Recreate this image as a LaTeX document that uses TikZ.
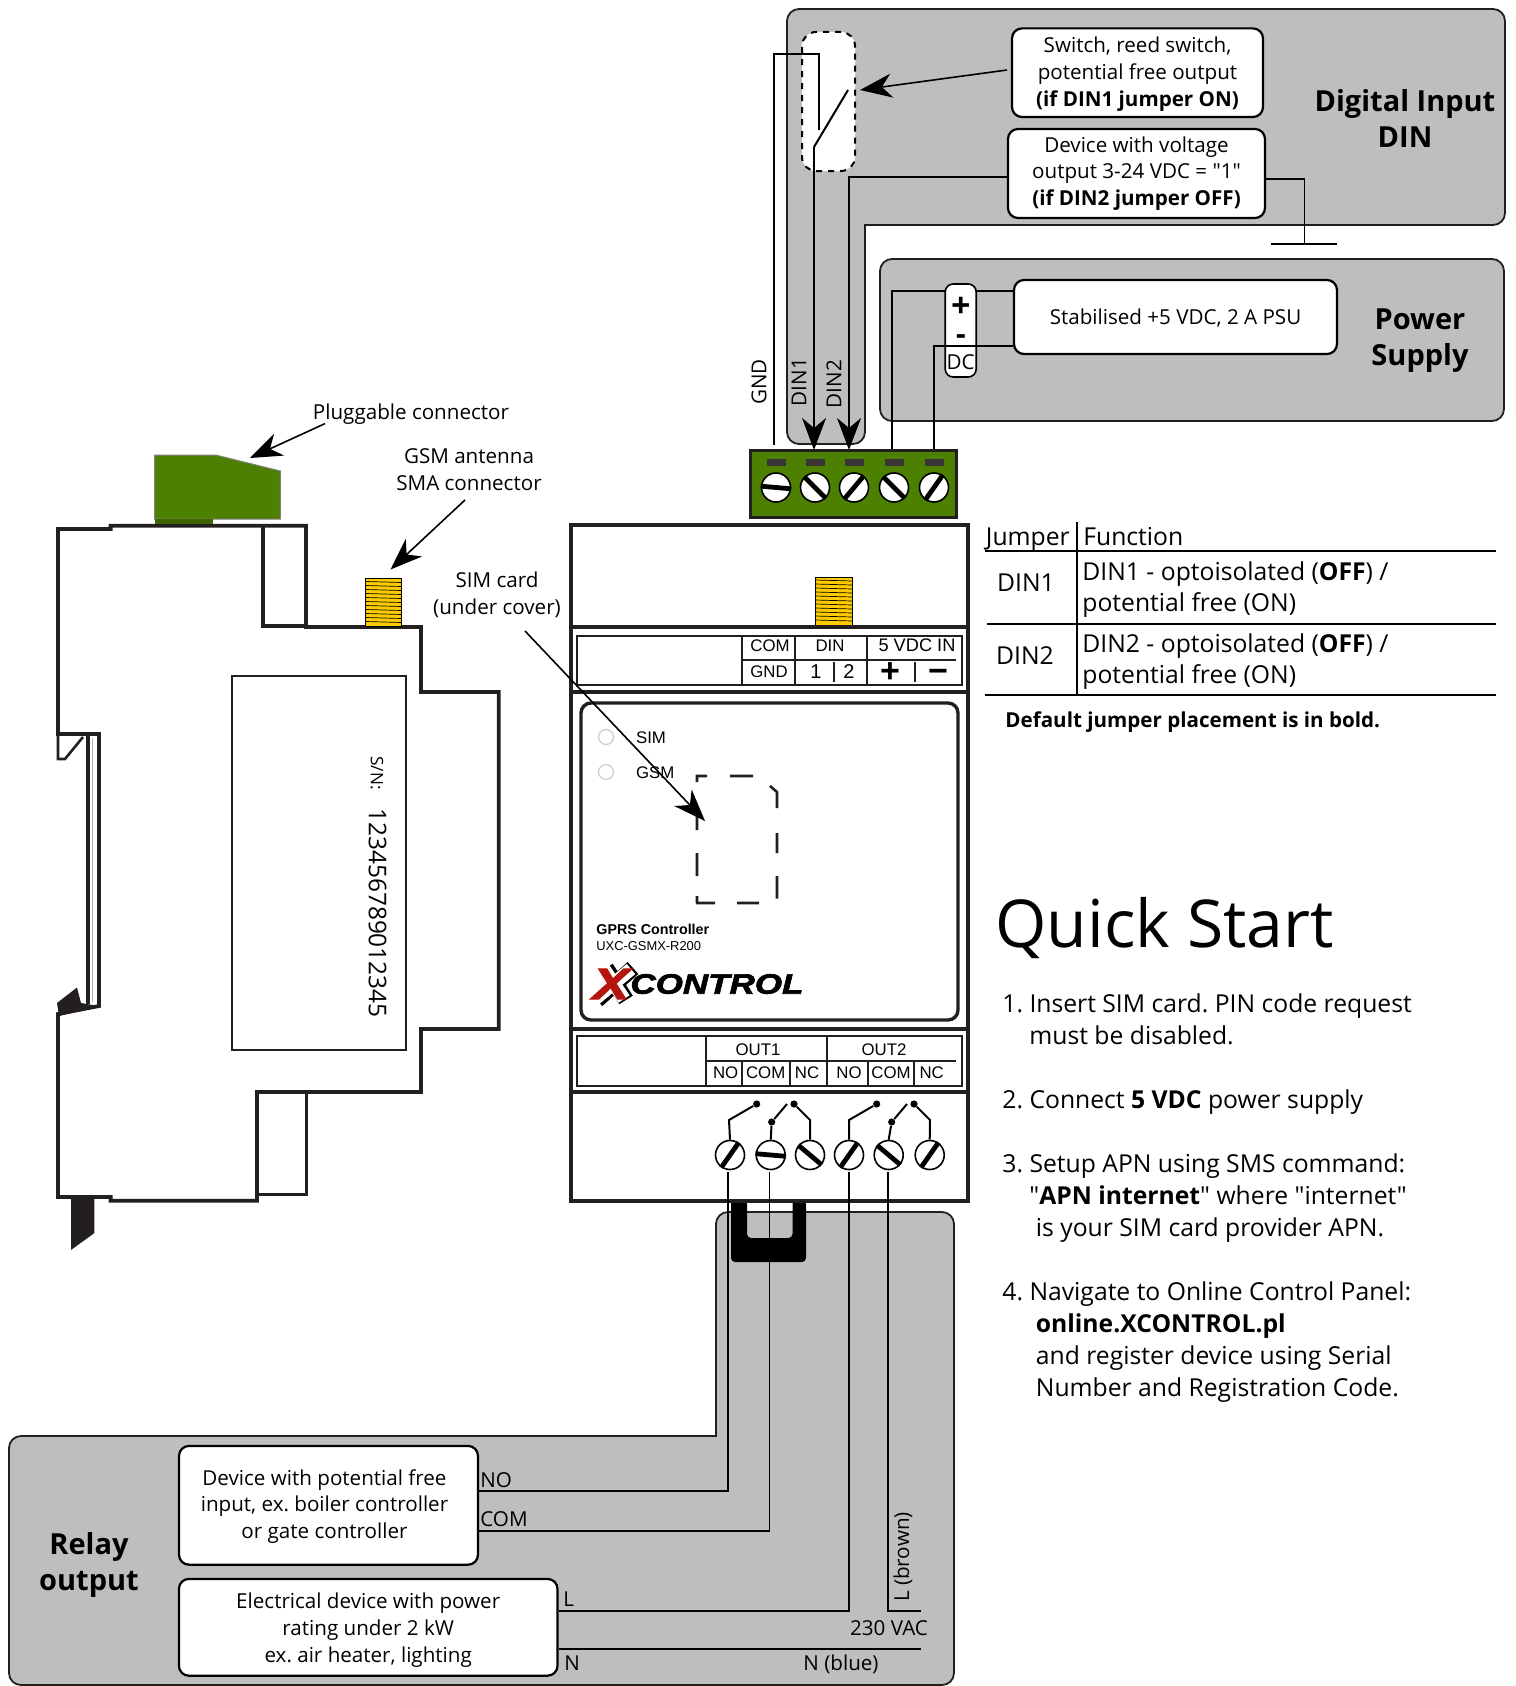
\documentclass[tikz,border=0pt]{standalone}
\usepackage{fontspec}
\setmainfont[Ligatures=TeXOff]{Open Sans}
\newfontfamily\arialfont{Liberation Sans}
\newfontfamily\logofont[BoldItalicFeatures={FakeStretch=1.25,FakeBold=2.5}]{Liberation Sans}
\usetikzlibrary{positioning,arrows.meta,calc}
\definecolor{panelgray}{HTML}{BEBEBE}
\definecolor{plugreen}{HTML}{4D7F00}
\definecolor{ink}{HTML}{231F20}
\definecolor{smayellow}{HTML}{FFCC00}
\definecolor{logored}{HTML}{B5150F}
\tikzset{
	panel/.style={draw=ink,fill=panelgray,line width=.9pt,rounded corners=6pt},
	whitebox/.style={draw=black,fill=white,line width=1.1pt,rounded corners=5pt,inner sep=0pt,align=center,font=\fontsize{10.3}{13.4}\selectfont},
	heading/.style={inner sep=0pt,align=center,font=\fontsize{14.5}{18}\selectfont\bfseries},
	txt/.style={inner sep=0pt,font=\fontsize{10.3}{13.4}\selectfont},
	txtbig/.style={inner sep=0pt,anchor=base west,font=\fontsize{12.35}{15}\selectfont},
	arl/.style={inner sep=0pt,font=\arialfont\fontsize{8.4}{10}\selectfont},
	body/.style={draw=ink,line width=1.9pt,line join=miter},
	thinbody/.style={draw=ink,line width=.8pt},
	wire/.style={draw=black,line width=1pt},
	thinwire/.style={draw=black,line width=.8pt},
	pointer/.style={draw=black,line width=.8pt,-{Stealth[length=16pt,width=12pt,inset=5pt]}},
	screw/.style={circle,draw=black,fill=white,line width=.8pt,inner sep=0pt,minimum size=14.5pt},
	slot/.style={draw=black,line width=2.4pt},
	tab/.style={fill=ink!90,inner sep=0pt,minimum width=9.5pt,minimum height=3.5pt},
	contactdot/.style={circle,fill=black,inner sep=0pt,minimum size=3.6pt},
	led/.style={circle,draw=black!20,fill=white,line width=.6pt,inner sep=0pt,minimum size=7.5pt},
}
\frenchspacing
\begin{document}
\begin{tikzpicture}[x=.5pt,y=-.5pt]
	\useasboundingbox (0,0) rectangle (1515,1686);

	% grey panels
	\draw[panel] (787,9) -- (1505,9) -- (1505,225) [sharp corners] -- (865,225) [rounded corners=6pt] -- (865,444) -- (787,444) -- cycle;
	\draw[panel] (880,259) rectangle (1504,421);
	\draw[panel] (954,1212) -- (954,1685) -- (9,1685) -- (9,1436) [sharp corners] -- (716,1436) [rounded corners=6pt] -- (716,1212) -- cycle;
	\fill[black,rounded corners=2pt] (731,1200) -- (747,1200) -- (747,1238) -- (792.5,1238) -- (792.5,1200) -- (806,1200) -- (806,1262) -- (731,1262) -- cycle;

	% digital input
	\node[draw=black,fill=white,dashed,line width=1pt,rounded corners=7pt,minimum width=26.5pt,minimum height=69.5pt,inner sep=0pt] (swzone) at (828.5,101.5) {};
	\node[whitebox,minimum width=125.5pt,minimum height=44.3pt] (swbox) at (1137.5,72.7) {\rule{0pt}{9pt}Switch, reed switch,\\potential free output\\\textbf{(if DIN1 jumper ON)}};
	\node[whitebox,minimum width=128.5pt,minimum height=44.5pt] (voltbox) at (1136.5,173.5) {Device with voltage\\output 3-24 VDC = "1"\\\textbf{(if DIN2 jumper OFF)}};
	\node[heading] (dinhead) at (1405,118) {Digital Input\\DIN};

	% power supply
	\node[whitebox,minimum width=161.5pt,minimum height=37pt] (psu) at (1175.5,317) {\rule{0pt}{8.8pt}Stabilised +5 VDC, 2 A PSU};
	\coordinate (plusbend) at (892,290.5);
	\coordinate (pluspin) at (892,450);
	\coordinate (minusbend) at (934,345.5);
	\coordinate (minuspin) at (934,450);
	\draw[wire] (psu.west |- plusbend) -- (plusbend) -- (pluspin);
	\node[draw=black,fill=white,line width=.8pt,rounded corners=4pt,minimum width=15.5pt,minimum height=46.5pt,inner sep=0pt] (dcbox) at (960.7,330.5) {};
	\node[inner sep=0pt,font=\fontsize{17}{17}\selectfont\bfseries] (dcplus) at (960.7,307.5) {+};
	\node[inner sep=0pt,font=\fontsize{15}{15}\selectfont\bfseries] (dcminus) at (961,339.5) {-};
	\node[txt] (dclabel) at (960.7,362) {DC};
	\draw[wire] (psu.west |- minusbend) -- (minusbend) -- (minuspin);
	\node[heading] (psuhead) at (1420,341) {Power\\Supply};

	% screw terminal block
	\node[draw=ink,fill=plugreen,line width=1.4pt,minimum width=103pt,minimum height=33.5pt,inner sep=0pt] (block) at (853.5,484) {};
	\foreach \n/\X/\a/\b in {1/776/175/-5,2/815/135/-45,3/854/230/50,4/894/135/-45,5/934/235/55}
	{
		\node[tab] (tab\n) at (\X,462) {};
		\node[screw] (t\n) at (\X,487.5) {};
		\draw[slot] (t\n.\a) -- (t\n.\b);
	}

	% wires to the block
	\coordinate (gndA) at (774,445);
	\coordinate (gndB) at (774,54);
	\coordinate (gndC) at (818.5,54);
	\coordinate (gndD) at (818.5,130);
	\coordinate (leverA) at (848,90);
	\coordinate (leverB) at (814,147);
	\coordinate (din1pin) at (814,450);
	\coordinate (din2bend) at (849,177);
	\coordinate (din2pin) at (849,450);
	\coordinate (earth) at (1304.5,243.6);
	\coordinate (earthL) at (1271,243.6);
	\coordinate (earthR) at (1337,243.6);
	\draw[wire] (gndA) -- (gndB) -- (gndC) -- (gndD);
	\draw[wire] (leverA) -- (leverB);
	\draw[pointer,line width=1pt] (leverB) -- (din1pin);
	\draw[pointer,line width=1pt] (voltbox.west |- din2bend) -- (din2bend) -- (din2pin);
	\draw[thinwire] (voltbox.east |- 0,179) -| (earth);
	\draw[wire] (earthL) -- (earthR);
	\coordinate (swfrom) at (1007,70);
	\coordinate (swtip) at (860,90);
	\draw[pointer] (swfrom) -- (swtip);
	\node[txt,rotate=90] (lblgnd) at (759,382) {GND};
	\node[txt,rotate=90] (lbldin1) at (799,382) {DIN1};
	\node[txt,rotate=90] (lbldin2) at (834,384) {DIN2};

	% side view
	\draw[body,fill=white] (58,529) -- (110.6,529) -- (110.6,525.7) -- (263,525.7) -- (306,525.7) -- (306,627) -- (421,627) -- (421,692) -- (498.7,692) -- (498.7,1029) -- (421,1029) -- (421,1092) -- (257,1092) -- (257,1200.8) -- (110.6,1200.8) -- (110.6,1197) -- (58,1197) -- (58,1014) -- (99,1006) -- (99,734) -- (58,734) -- cycle;
	\draw[body] (263,525.7) -- (263,626) -- (306,626);
	\draw[body,line width=1.5pt] (306,1092) -- (306,1194) -- (257,1194);
	\draw[body,line width=1.3pt] (58,734) -- (58,759) -- (65,759) -- (83,737);
	\draw[body,line width=1.6pt] (88,734) -- (88,1004);
	\draw[black!30,line width=.6pt] (92.5,738) -- (92.5,1002);
	\fill[ink] (57,1003) -- (77,987.5) -- (81,1003) -- (99,1006) -- (59,1016) -- cycle;
	\fill[ink] (71,1198) -- (94.4,1198) -- (94.4,1233) -- (71,1250) -- cycle;
	\fill[plugreen,draw=black!50,line width=.5pt] (154.7,455) -- (215.6,455) -- (280.4,471) -- (280.4,519) -- (154.7,519) -- cycle;
	\fill[plugreen!80!black] (155,519) rectangle (213,524);
	\node[draw=ink,line width=.8pt,minimum width=87pt,minimum height=187pt,inner sep=0pt] (sticker) at (318.7,863) {};
	\node[inner sep=0pt,rotate=-90,font=\fontsize{8.6}{10}\selectfont] (snlabel) at (377,773) {S/N:};
	\node[inner sep=0pt,rotate=-90,font=\fontsize{12.2}{14}\selectfont] (snvalue) at (377.5,913) {123456789012345};
	\foreach \X/\Y/\W in {365.4/578.5/36,815/577/37}
	{
		\fill[smayellow,draw=black,line width=.4pt] (\X,\Y) rectangle ({\X+\W},{\Y+48});
		\foreach \k in {1,...,11}
			\draw[black,line width=.35pt] (\X,{\Y+4*\k-1}) -- ({\X+\W},{\Y+4*\k});
	}

	% front view
	\draw[body] (570.7,525) rectangle (968,1201);
	\draw[body] (570.7,627) -- (968,627);
	\draw[body] (570.7,692) -- (968,692);
	\draw[body] (570.7,1029) -- (968,1029);
	\draw[body] (570.7,1092) -- (968,1092);
	\draw[thinbody] (577,636) rectangle (962,685);
	\draw[thinbody] (742,636) -- (742,685);
	\draw[thinbody] (795,636) -- (795,685);
	\draw[thinbody] (867,636) -- (867,685);
	\draw[thinbody] (742,660) -- (956,660);
	\draw[thinbody] (834,662) -- (834,682);
	\draw[thinbody] (915,662) -- (915,682);
	\foreach \t/\X/\Y in {COM/770/646,GND/769/672,DIN/830/646,OUT1/758/1050,OUT2/884/1050,NO/725.7/1073,COM/765.7/1073,NC/807/1073,NO/849/1073,COM/891/1073,NC/931.7/1073}
		\node[arl] at (\X,\Y) {\t};
	\node[arl,font=\arialfont\fontsize{9.1}{10}\selectfont] (lblvdc) at (917,645) {5 VDC IN};
	\node[arl,font=\arialfont\fontsize{10}{10}\selectfont] (lblpin1) at (816,672) {1};
	\node[arl,font=\arialfont\fontsize{10}{10}\selectfont] (lblpin2) at (849,672) {2};
	\node[inner sep=0pt,font=\arialfont\fontsize{17}{17}\selectfont\bfseries] (jplus) at (890,673) {+};
	\node[inner sep=0pt,font=\arialfont\fontsize{17}{17}\selectfont\bfseries] (jminus) at (938,676) {\char"2212};
	\draw[thinbody] (577,1036) rectangle (962,1086);
	\draw[thinbody] (705.7,1036) -- (705.7,1086);
	\draw[thinbody] (827,1036) -- (827,1086);
	\draw[thinbody] (705.7,1061) -- (956,1061);
	\foreach \X in {741.7,789.7,868,914}
		\draw[thinbody] (\X,1061) -- (\X,1086);
	\draw[draw=ink,line width=1.7pt,rounded corners=5pt] (581,703) rectangle (958,1020);
	\node[led] (ledsim) at (606,737) {};
	\node[led] (ledgsm) at (606,772) {};
	\node[arl,anchor=west] (lblsim) at (635.7,738) {SIM};
	\node[arl,anchor=west] (lblgsm) at (635.7,773) {GSM};
	\draw[ink,line width=1.3pt] (697,782) -- (697,776) -- (707,776) (730,776) -- (753,776) (770,786) -- (777,792) -- (777,808) (777,833) -- (777,853) (777,876) -- (777,898.5) (696,903) -- (715,903) (737,903) -- (759,903) (697,807) -- (697,830) (697,853) -- (697,876) (697,896) -- (697,903);
	\node[inner sep=0pt,anchor=west,font=\arialfont\fontsize{7.15}{9}\selectfont\bfseries] (lblgprs) at (596,929) {GPRS Controller};
	\node[inner sep=0pt,anchor=west,font=\arialfont\fontsize{6.45}{9}\selectfont] (lbluxc) at (596,946) {UXC-GSMX-R200};
	\draw[black,line width=8pt] (606,968) -- (626,1000) (633,968) -- (597,1000);
	\draw[white,line width=6.6pt] (604,969) -- (624,999) (631,969) -- (595,999);
	\node[inner sep=0pt,anchor=center,text=logored,font=\logofont\fontsize{22}{22}\selectfont\bfseries\itshape] (logox) at (611,984) {X};
	\node[inner sep=0pt,anchor=west,font=\logofont\fontsize{14}{15}\selectfont\bfseries\itshape] (logoctl) at (630,984) {CONTROL};

	% relay screws
	\foreach \n/\X/\a/\b in {1/730/235/55,2/770.7/175/-5,3/810/140/-40,4/849/235/55,5/888.7/140/-40,6/929.7/235/55}
	{
		\node[screw] (r\n) at (\X,1155) {};
		\draw[slot] (r\n.\a) -- (r\n.\b);
	}
	\foreach \d/\A/\B/\C in {0/r1/r2/r3,120/r4/r5/r6}
	{
		\node[contactdot] (nod\d) at ({756.7+\d},1104) {};
		\node[contactdot] (com\d) at ({771.7+\d},1122) {};
		\node[contactdot] (ncd\d) at ({794+\d},1104) {};
		\coordinate (fork\d) at ({787+\d},1104);
		\coordinate (noa\d) at ({729+\d},1120);
		\coordinate (nca\d) at ({810+\d},1120);
		\draw[wire] (\A.north) -- (noa\d) -- (nod\d);
		\draw[wire] (\B.north) -- (com\d) -- (fork\d);
		\draw[wire] (\C.north) -- (nca\d) -- (ncd\d);
	}

	% relay wiring
	\node[whitebox,minimum width=149.5pt,minimum height=59.4pt] (devbox) at (328.5,1505.3) {\rule{0pt}{9pt}\hspace*{-4pt}Device with potential free\\\hspace*{-4pt}input, ex. boiler controller\\\hspace*{-4pt}or gate controller};
	\node[whitebox,minimum width=189.3pt,minimum height=48.4pt] (elecbox) at (368.2,1627.3) {\rule{0pt}{10.5pt}Electrical device with power\\rating under 2 kW\\ex. air heater, lighting};
	\node[heading] (relayhead) at (89,1565) {Relay\\output};
	\coordinate (noA) at (728,1172);
	\coordinate (noB) at (728,1491);
	\coordinate (comA) at (769.4,1172);
	\coordinate (comB) at (769.4,1531);
	\coordinate (lA) at (849,1172);
	\coordinate (lB) at (849,1611);
	\coordinate (brownA) at (888,1172);
	\coordinate (brownB) at (888,1611);
	\coordinate (brownC) at (921,1611);
	\coordinate (nEnd) at (921,1649);
	\draw[thinwire] (noA) -- (noB) -- (devbox.east |- noB);
	\draw[thinwire] (comA) -- (comB) -- (devbox.east |- comB);
	\draw[thinwire] (lA) -- (lB) -- (elecbox.east |- lB);
	\draw[thinwire] (brownA) -- (brownB) -- (brownC);
	\draw[thinwire] (elecbox.east |- nEnd) -- (nEnd);
	\node[txt,anchor=west] (lblno) at (480,1480) {NO};
	\node[txt,anchor=west] (lblcom) at (480,1519) {COM};
	\node[txt,anchor=west] (lbll) at (563,1599) {L};
	\node[txt,anchor=west] (lbln) at (564,1663) {N};
	\node[txt] (lblvac) at (889,1628) {230 VAC};
	\node[txt] (lblblue) at (841,1664) {N (blue)};
	\node[txt,rotate=90] (lblbrown) at (903,1557) {L (brown)};

	% callouts on the left
	\node[txt] (lblplug) at (411,414) {Pluggable connector};
	\node[txt,align=center] (lblsma) at (469,470) {GSM antenna\\SMA connector};
	\node[txt,align=center] (lblcard) at (497,595) {SIM card\\(under cover)};
	\coordinate (plugfrom) at (325,423.6);
	\coordinate (plugtip) at (250,458);
	\coordinate (smafrom) at (465,500);
	\coordinate (smatip) at (390.5,569.5);
	\coordinate (cardfrom) at (525,631);
	\coordinate (cardtip) at (705,821);
	\draw[pointer] (plugfrom) -- (plugtip);
	\draw[pointer] (smafrom) -- (smatip);
	\draw[pointer] (cardfrom) -- (cardtip);

	% jumper table
	\draw[black,line width=.85pt] (985,550.7) -- (1496,550.7);
	\draw[black,line width=.85pt] (987,624) -- (1496,624);
	\draw[black,line width=.85pt] (985,695) -- (1496,695);
	\draw[black,line width=.85pt] (1077,522) -- (1077,695);
	\node[txtbig] (jhead) at (985.5,545.7) {Jumper};
	\node[txtbig] (fhead) at (1083,545.7) {Function};
	\node[txtbig,anchor=base] (jrow1) at (1026,591) {DIN1};
	\node[txtbig,anchor=base] (jrow2) at (1025,664) {DIN2};
	\node[txtbig] (frow1a) at (1082,580) {DIN1 - optoisolated (\textbf{OFF}) /};
	\node[txtbig] (frow1b) at (1082,611) {potential free (ON)};
	\node[txtbig] (frow2a) at (1082,652) {DIN2 - optoisolated (\textbf{OFF}) /};
	\node[txtbig] (frow2b) at (1082,683) {potential free (ON)};
	\node[txtbig,font=\fontsize{10.3}{13}\selectfont\bfseries] (jnote) at (1005,727.3) {Default jumper placement is in bold.};

	% quick start
	\node[inner sep=0pt,anchor=base west,font=\fontsize{33}{36}\selectfont] (qstitle) at (995,947) {Quick Start};
	\foreach \t/\X/\Y in {1. Insert SIM card. PIN code request/1002/1012,must be disabled./1029/1044,2. Connect \textbf{5 VDC} power supply/1002/1108,3. Setup APN using SMS command:/1002/1172,"\textbf{APN internet}" where "internet"/1029/1204,is your SIM card provider APN./1035.5/1236,4. Navigate to Online Control Panel:/1002/1300,\textbf{online.XCONTROL.pl}/1035.5/1332,and register device using Serial/1035.5/1364,Number and Registration Code./1035.5/1396}
		\node[txtbig] at (\X,\Y) {\t};
\end{tikzpicture}
\end{document}
